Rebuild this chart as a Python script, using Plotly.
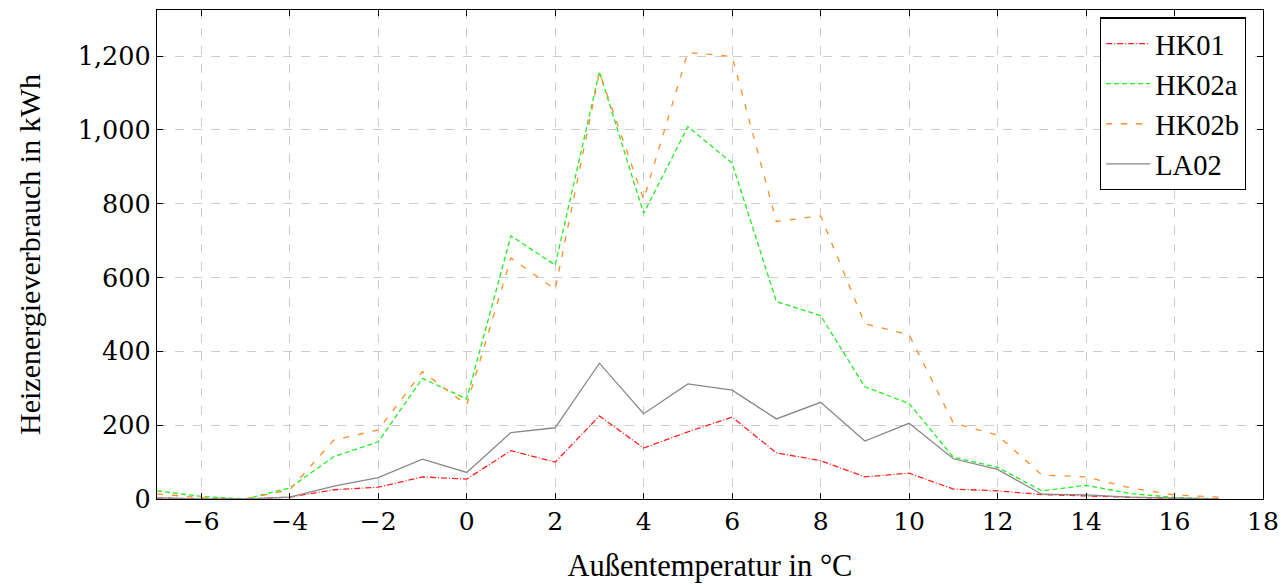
import plotly.graph_objects as go

temps = list(range(-7, 18))
hk01 = [3, 0, 0, 5, 25, 32, 60, 54, 131, 100, 225, 138, 182, 222, 125, 104, 60, 70, 27, 22, 12, 8, 4, 1, 0]
hk02a = [22, 7, 0, 30, 115, 155, 327, 271, 713, 634, 1158, 774, 1009, 910, 535, 497, 304, 259, 113, 86, 22, 37, 15, 4, 0]
hk02b = [14, 3, 0, 25, 160, 187, 345, 255, 653, 568, 1156, 812, 1210, 1199, 752, 767, 475, 445, 206, 173, 65, 60, 30, 11, 5]
la02 = [3, 0, 0, 5, 35, 58, 108, 72, 180, 193, 368, 231, 312, 295, 217, 262, 157, 205, 109, 80, 13, 11, 5, 2, 0]

series = [
    ("HK01", hk01, "#ff2020", "6px,2px,1px,2px"),
    ("HK02a", hk02a, "#22ee22", "5px,3px"),
    ("HK02b", hk02b, "#ff8c26", "6px,9px"),
    ("LA02", la02, "#888888", "solid"),
]

fig = go.Figure()
for name, vals, col, dash in series:
    fig.add_trace(go.Scatter(x=temps, y=vals, mode="lines", name=name,
                             line=dict(color=col, width=1.3, dash=dash)))

font_serif = "Liberation Serif"
fig.update_layout(
    width=1287, height=585,
    margin=dict(l=157, r=24, t=10, b=86),
    paper_bgcolor="white", plot_bgcolor="white",
    font=dict(family=font_serif, size=30, color="black"),
    showlegend=True,
    legend=dict(x=0.9845, xanchor="right", y=0.985, yanchor="top",
                bordercolor="black", borderwidth=1.3, bgcolor="white",
                font=dict(size=28.5, family=font_serif), itemwidth=44,
                tracegroupgap=0),
)
fig.update_xaxes(
    range=[-7, 18], tickmode="linear", tick0=-6, dtick=2,
    showline=True, linecolor="black", linewidth=1.3, mirror="ticks",
    ticks="inside", ticklen=6, tickcolor="black",
    showgrid=True, gridcolor="#cccccc", griddash="dash", gridwidth=1,
    zeroline=False, automargin=False,
    title=dict(text="Außentemperatur in °C", font=dict(size=30.5, family=font_serif), standoff=19),
    tickfont=dict(size=25, family="DejaVu Serif"),
)
fig.update_yaxes(
    range=[0, 1325], tickmode="linear", tick0=0, dtick=200, tickformat=",d",
    showline=True, linecolor="black", linewidth=1.3, mirror="ticks",
    ticks="inside", ticklen=6, tickcolor="black",
    showgrid=True, gridcolor="#cccccc", griddash="dash", gridwidth=1,
    zeroline=False, automargin=False,
    title=dict(text="Heizenergieverbrauch in kWh", font=dict(size=30, family=font_serif), standoff=28),
    tickfont=dict(size=25.5, family="DejaVu Serif"),
)
fig.write_html("out.html")
